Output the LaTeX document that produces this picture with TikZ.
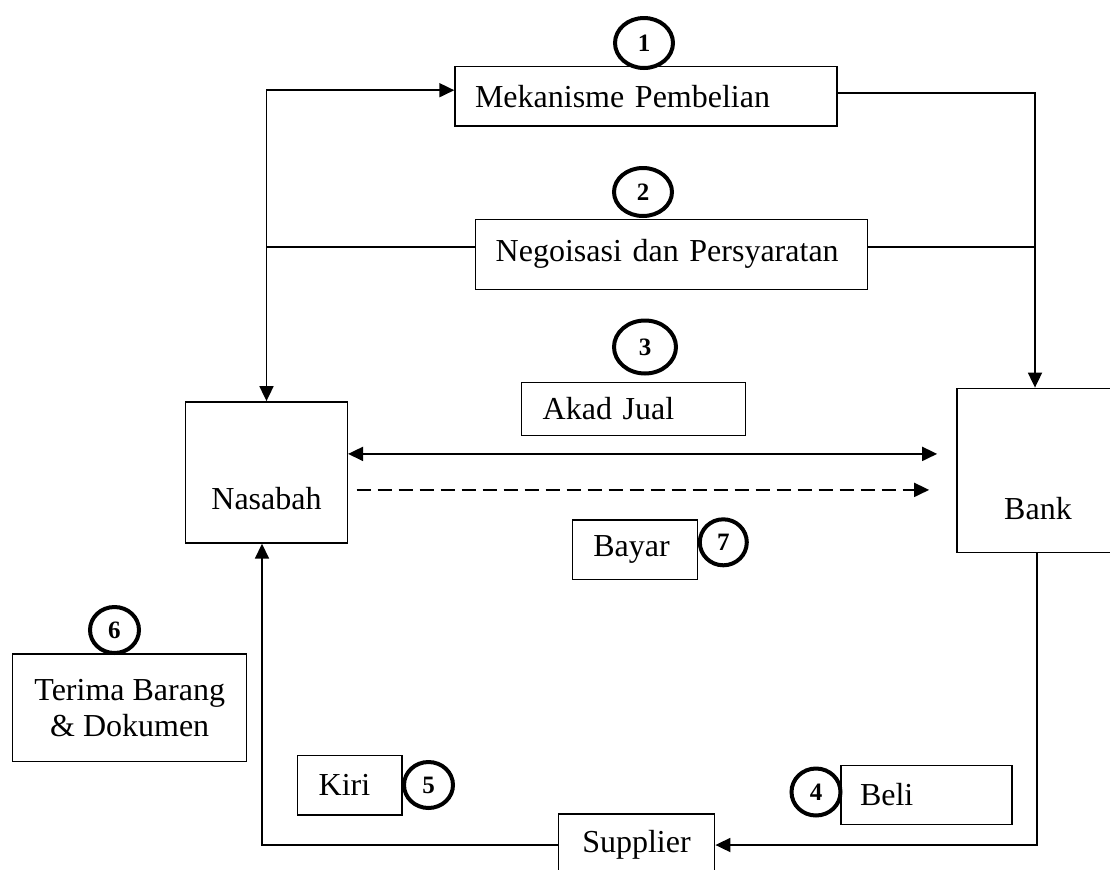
\documentclass[tikz,border=0pt]{standalone}
\usepackage{fontspec}
\setmainfont{Liberation Serif}
\usetikzlibrary{arrows.meta,shapes.geometric}

\newcommand{\boxfont}{\fontsize{16}{18}\selectfont}
\newcommand{\numfont}{\fontsize{12.5}{14}\selectfont\bfseries}

\begin{document}
\begin{tikzpicture}[x=0.5pt,y=-0.5pt,
  >={Triangle[length=7.5pt,width=7pt]},
  box/.style={draw, rectangle, line width=0.7pt, inner ysep=0pt, font=\boxfont},
  lbox/.style={box, inner xsep=10pt, align=left},
  cbox/.style={box, inner xsep=0pt, align=center},
  num/.style={draw, ellipse, line width=2pt, inner sep=0pt, font=\numfont},
  link/.style={line width=0.9pt}]
  \useasboundingbox (0,0) rectangle (1110,869);
  \clip (0,0) rectangle (1110,869);
  \node[lbox, text width=171pt, minimum height=29.65pt] (mek) at (646,96.2) {Mekanisme Pembelian};
  \node[lbox, text width=175.8pt, minimum height=35pt] (neg) at (671.5,254.3) {Negoisasi dan Persyaratan};
  \node[lbox, inner xsep=10.5pt, text width=91pt, minimum height=26.3pt] (akad) at (633.7,409) {Akad Jual};
  \node[lbox, inner xsep=10.5pt, text width=41.5pt, minimum height=29.65pt] (bayar) at (634.8,549.7) {Bayar};
  \node[lbox, inner xsep=10.5pt, text width=31.15pt, minimum height=29.65pt] (kiri) at (349.8,785.3) {Kiri};
  \node[lbox, inner xsep=9.5pt, text width=66.5pt, minimum height=29.3pt] (beli) at (926.5,795) {Beli};
  \node[cbox, minimum width=80.85pt, minimum height=70.6pt] (nas) at (266.5,472.4) {};
  \node[cbox, minimum width=81.15pt, minimum height=82pt] (bank) at (1038,470.3) {};
  \node[cbox, minimum width=117pt, minimum height=53.85pt] (terima) at (129.7,707.8) {Terima Barang\\\& Dokumen};
  \node[cbox, minimum width=78.2pt, minimum height=31pt] (supp) at (636.5,845) {Supplier};
  \node[font=\boxfont, inner sep=0pt] (nasT) at ([yshift=-13pt]nas.center) {Nasabah};
  \node[font=\boxfont, inner sep=0pt] (bankT) at ([yshift=-19pt]bank.center) {Bank};

  \node[num, minimum width=29pt, minimum height=25pt] (n1) at (644,43) {1};
  \node[num, minimum width=29pt, minimum height=24pt] (n2) at (643,192) {2};
  \node[num, minimum width=31pt, minimum height=26.5pt] (n3) at (645,347) {3};
  \node[num, minimum width=24.5pt, minimum height=23.5pt] (n4) at (816,792) {4};
  \node[num, minimum width=24.5pt, minimum height=23pt] (n5) at (428.5,785) {5};
  \node[num, minimum width=24.5pt, minimum height=23pt] (n6) at (114.5,630) {6};
  \node[num, minimum width=23.5pt, minimum height=23pt] (n7) at (723.3,542.3) {7};

  \draw[link,<->] ([yshift=3pt]mek.west) -| (nas.north);
  \draw[link,->] ([yshift=1.5pt]mek.east) -| ([xshift=-1.5pt]bank.north);
  \draw[link] ([yshift=3.8pt]neg.west) -- ([yshift=3.8pt]neg.west -| nas.north);
  \draw[link] ([yshift=3.8pt]neg.east) -- ([xshift=-1.5pt,yshift=3.8pt]neg.east -| bank.north);
  \draw[link,<->] ([yshift=9.25pt]nas.east) -- ([xshift=-9.5pt,yshift=9.25pt]nas.east -| bank.west);
  \draw[link,->,dash pattern=on 7pt off 3.5pt] ([xshift=4.25pt,yshift=-8.75pt]nas.east) -- ([xshift=-13.5pt,yshift=-8.75pt]nas.east -| bank.west);
  \draw[link,->] ([xshift=-0.5pt]bank.south) |- (supp.east);
  \draw[link,->] (supp.west) -| ([xshift=-2.25pt]nas.south);
\end{tikzpicture}
\end{document}
